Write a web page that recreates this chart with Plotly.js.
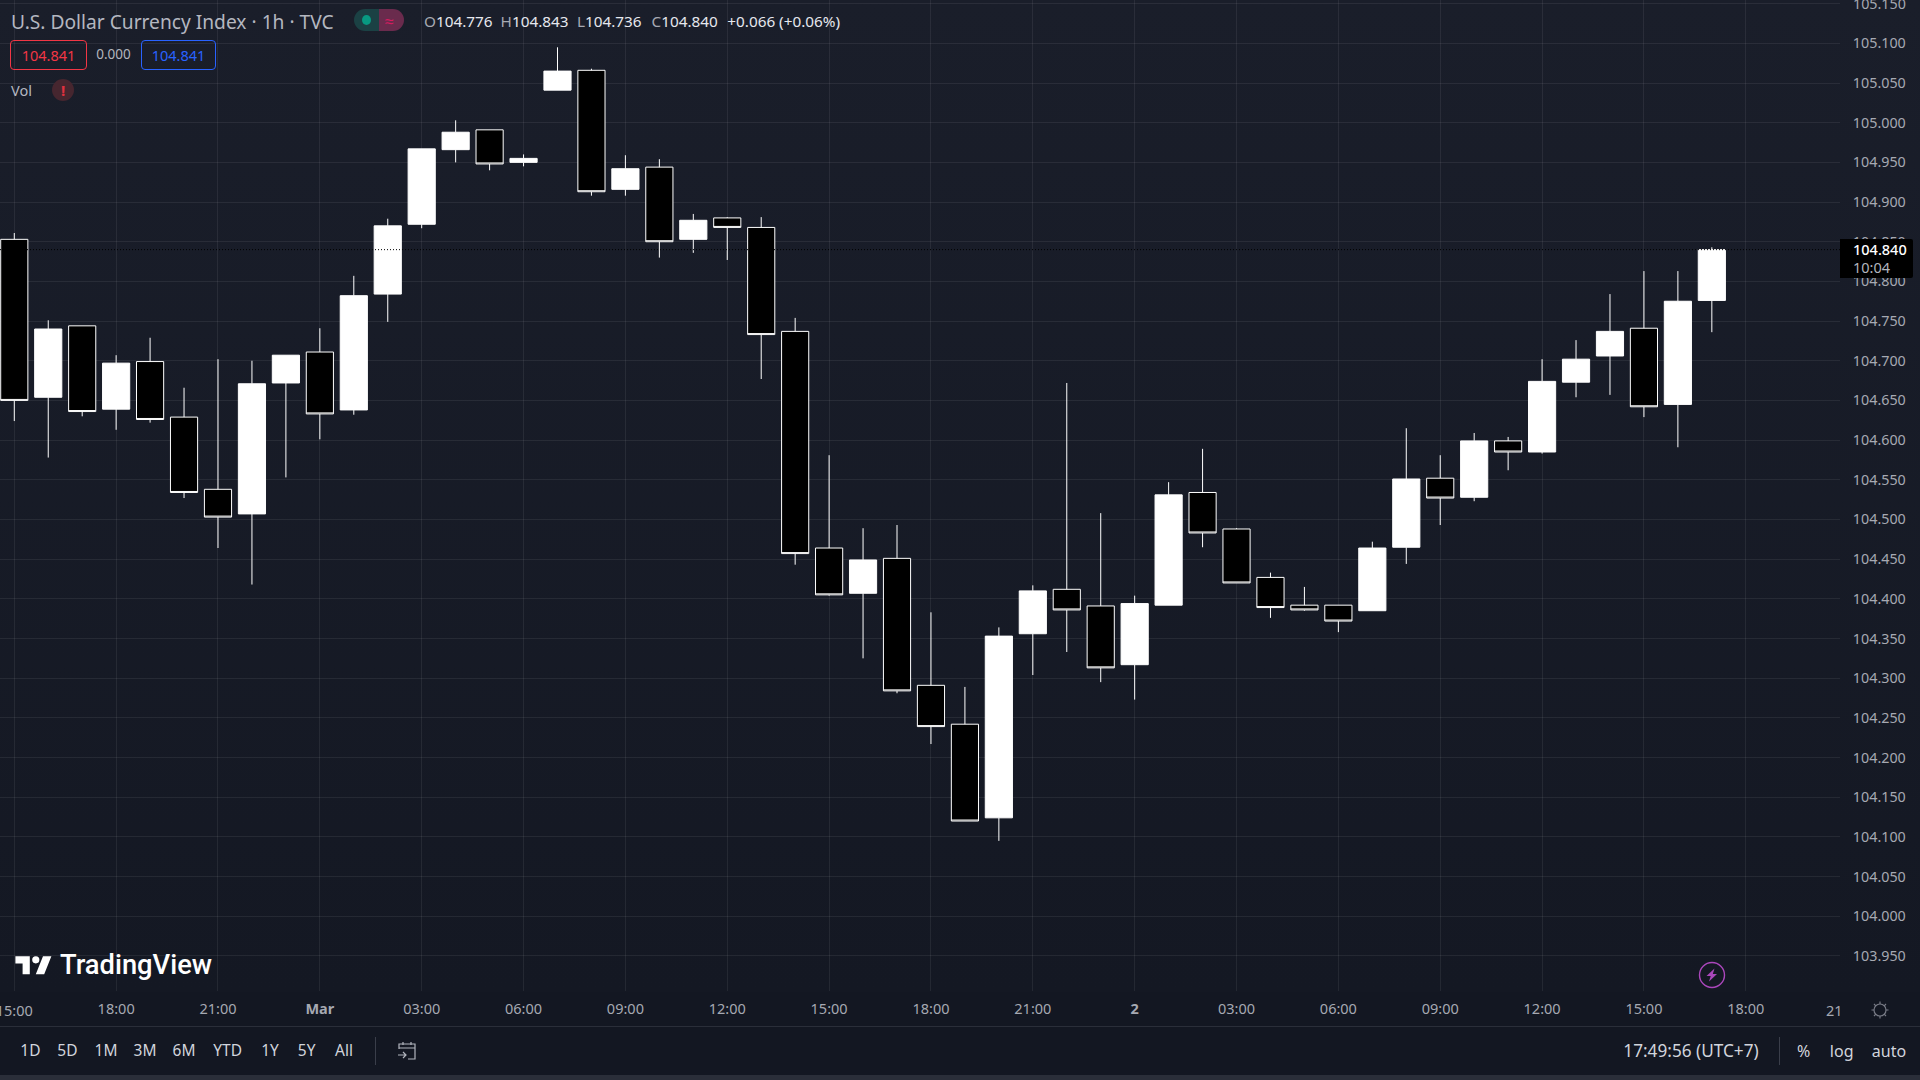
<!DOCTYPE html>
<html><head><meta charset="utf-8">
<script src="https://cdn.plot.ly/plotly-3.0.0.min.js"></script>
<style>
html,body{margin:0;padding:0;width:1920px;height:1080px;overflow:hidden;background:#131722;}
#bg{position:absolute;left:0;top:0;width:1920px;height:992px;background:linear-gradient(180deg,#1a1e2a 0%,#141823 100%);}
#chart{position:absolute;left:0;top:0;width:1920px;height:1080px;}
#ui{position:absolute;left:0;top:0;width:1920px;height:1080px;pointer-events:none;font-family:"Noto Sans",sans-serif;}
#ui .t{position:absolute;white-space:nowrap;transform:translateY(-50%);line-height:1;}
#ui .c{transform:translate(-50%,-50%);}
.box{position:absolute;box-sizing:border-box;}
</style></head><body>
<div id="bg"></div>
<div id="chart"></div>
<div id="ui"></div>
<script>
// ---- data ----
const times = [
"2023-02-28 15:00","2023-02-28 16:00","2023-02-28 17:00","2023-02-28 18:00","2023-02-28 19:00","2023-02-28 20:00","2023-02-28 21:00","2023-02-28 22:00","2023-02-28 23:00",
"2023-03-01 00:00","2023-03-01 01:00","2023-03-01 02:00","2023-03-01 03:00","2023-03-01 04:00","2023-03-01 05:00","2023-03-01 06:00","2023-03-01 07:00","2023-03-01 08:00","2023-03-01 09:00","2023-03-01 10:00","2023-03-01 11:00","2023-03-01 12:00","2023-03-01 13:00","2023-03-01 14:00","2023-03-01 15:00","2023-03-01 16:00","2023-03-01 17:00","2023-03-01 18:00","2023-03-01 19:00","2023-03-01 20:00","2023-03-01 21:00","2023-03-01 22:00","2023-03-01 23:00",
"2023-03-02 00:00","2023-03-02 01:00","2023-03-02 02:00","2023-03-02 03:00","2023-03-02 04:00","2023-03-02 05:00","2023-03-02 06:00","2023-03-02 07:00","2023-03-02 08:00","2023-03-02 09:00","2023-03-02 10:00","2023-03-02 11:00","2023-03-02 12:00","2023-03-02 13:00","2023-03-02 14:00","2023-03-02 15:00","2023-03-02 16:00","2023-03-02 17:00"];
const opens = [104.853,104.654,104.744,104.639,104.699,104.629,104.538,104.507,104.672,104.711,104.638,104.784,104.872,104.966,104.991,104.950,105.041,105.066,104.916,104.944,104.853,104.880,104.868,104.737,104.464,104.407,104.451,104.291,104.242,104.124,104.356,104.412,104.391,104.317,104.392,104.534,104.488,104.427,104.392,104.392,104.385,104.465,104.552,104.528,104.599,104.585,104.673,104.706,104.741,104.645,104.776];
const highs = [104.861,104.751,104.744,104.707,104.729,104.666,104.702,104.700,104.707,104.741,104.807,104.879,104.967,105.003,104.991,104.960,105.095,105.068,104.959,104.954,104.885,104.881,104.881,104.754,104.581,104.489,104.493,104.383,104.289,104.364,104.417,104.672,104.508,104.404,104.547,104.589,104.489,104.433,104.415,104.392,104.472,104.615,104.581,104.609,104.604,104.702,104.726,104.784,104.813,104.813,104.843];
const lows = [104.624,104.578,104.630,104.613,104.622,104.527,104.464,104.418,104.553,104.601,104.632,104.749,104.867,104.950,104.940,104.945,105.041,104.908,104.908,104.830,104.836,104.827,104.677,104.443,104.404,104.325,104.281,104.217,104.120,104.095,104.304,104.333,104.295,104.273,104.392,104.465,104.420,104.376,104.385,104.358,104.385,104.444,104.493,104.523,104.562,104.583,104.654,104.657,104.629,104.591,104.736];
const closes = [104.650,104.740,104.636,104.697,104.626,104.534,104.503,104.671,104.707,104.633,104.782,104.870,104.967,104.988,104.948,104.955,105.065,104.913,104.942,104.850,104.877,104.868,104.733,104.457,104.405,104.449,104.284,104.239,104.120,104.353,104.410,104.386,104.313,104.394,104.531,104.483,104.420,104.389,104.386,104.372,104.464,104.551,104.527,104.599,104.585,104.674,104.702,104.737,104.642,104.775,104.840];
const priceTicks = [103.95,104.00,104.05,104.10,104.15,104.20,104.25,104.30,104.35,104.40,104.45,104.50,104.55,104.60,104.65,104.70,104.75,104.80,104.85,104.90,104.95,105.00,105.05,105.10,105.15];
const timeTicks = ["2023-02-28 15:00","2023-02-28 18:00","2023-02-28 21:00","2023-03-01 00:00","2023-03-01 03:00","2023-03-01 06:00","2023-03-01 09:00","2023-03-01 12:00","2023-03-01 15:00","2023-03-01 18:00","2023-03-01 21:00","2023-03-02 00:00","2023-03-02 03:00","2023-03-02 06:00","2023-03-02 09:00","2023-03-02 12:00","2023-03-02 15:00","2023-03-02 18:00"];
const timeLabels = ["15:00","18:00","21:00","<b>Mar</b>","03:00","06:00","09:00","12:00","15:00","18:00","21:00","<b>2</b>","03:00","06:00","09:00","12:00","15:00","18:00"];
const lastPrice = 104.840;
const titleText = "U.S. Dollar Currency Index · 1h · TVC";
const FONT = '"Noto Sans", sans-serif';

Plotly.newPlot('chart',[{
  type:'candlestick', x:times, open:opens, high:highs, low:lows, close:closes,
  increasing:{line:{color:'#ffffff',width:1},fillcolor:'#ffffff'},
  decreasing:{line:{color:'#ffffff',width:1},fillcolor:'#000000'},
  whiskerwidth:0, hoverinfo:'skip', showlegend:false
}],{
  width:1920,height:1080,
  paper_bgcolor:'rgba(0,0,0,0)',plot_bgcolor:'rgba(0,0,0,0)',
  margin:{l:0,r:80,t:0,b:88.5,pad:0},
  showlegend:false,boxgap:0.2,boxgroupgap:0,
  title:{text:titleText,xref:'container',yref:'container',x:11/1920,xanchor:'left',y:1-22/1080,yanchor:'middle',
    font:{family:FONT,size:19.2,color:'#b4b7c0'},pad:{t:0,b:0,l:0,r:0}},
  xaxis:{type:'date',range:['2023-02-28 14:34:45','2023-03-02 20:46:30'],rangeslider:{visible:false},
    tickmode:'array',tickvals:timeTicks,ticktext:timeLabels,ticks:'outside',ticklen:5,tickcolor:'rgba(0,0,0,0)',
    tickfont:{family:FONT,size:14.5,color:'#a6a9b2'},showgrid:true,gridcolor:'rgba(255,255,255,0.07)',gridwidth:1,
    showline:false,zeroline:false,fixedrange:true,tickangle:0},
  yaxis:{side:'right',range:[103.9058,105.1546],tickmode:'array',tickvals:priceTicks,
    ticktext:priceTicks.map(v=>v.toFixed(3)),ticks:'outside',ticklen:9,tickcolor:'rgba(0,0,0,0)',
    tickfont:{family:FONT,size:14.3,color:'#a6a9b2'},showgrid:true,gridcolor:'rgba(255,255,255,0.07)',gridwidth:1,
    showline:false,zeroline:false,fixedrange:true},
  shapes:[{type:'line',xref:'paper',x0:0,x1:1,yref:'y',y0:lastPrice,y1:lastPrice,layer:'above',line:{color:'#000000',width:1,dash:'1px,2px'}}]
},{displayModeBar:false,staticPlot:true});

// ---- chrome around the chart ----
const ui=document.getElementById('ui');
function txt(s,x,y,o){o=o||{};const d=document.createElement('div');d.className='t'+(o.c?' c':'');d.textContent=s;
  d.style.left=x+'px';d.style.top=y+'px';d.style.fontSize=(o.size||15)+'px';d.style.color=o.color||'#d1d4dc';
  if(o.weight)d.style.fontWeight=o.weight;if(o.font)d.style.fontFamily=o.font;ui.appendChild(d);return d;}
function box(x,y,w,h,css){const d=document.createElement('div');d.className='box';d.style.left=x+'px';d.style.top=y+'px';d.style.width=w+'px';d.style.height=h+'px';d.style.cssText+=';'+css;ui.appendChild(d);return d;}
function svg(x,y,w,h,vb,inner){const d=document.createElement('div');d.style.cssText=`position:absolute;left:${x}px;top:${y}px;width:${w}px;height:${h}px`;d.innerHTML=`<svg xmlns="http://www.w3.org/2000/svg" width="${w}" height="${h}" viewBox="${vb}">${inner}</svg>`;ui.appendChild(d);}

// labels at the chart edges
txt('105.150',1853,3.5,{size:14.3,color:'#a6a9b2'});
txt('15:00',14.3,1010,{c:1,size:14.5,color:'#a6a9b2'});
// status pill
box(354,9,25,22,'background:#1b4144;border-radius:11px 0 0 11px');
box(379,9,25,22,'background:#6a2b4d;border-radius:0 11px 11px 0');
box(362,15,9,10,'background:#089981;border-radius:50%');
txt('≈',389.5,20.5,{c:1,size:16,color:'#d81b60'});
// OHLC
[['O','104.776',424],['H','104.843',500.6],['L','104.736',577],['C','104.840',651.5]].forEach(a=>{
  const d=txt(a[0],a[2],22,{size:15.3,color:'#a6a9b2'});
  const s=document.createElement('span');s.textContent=a[1];s.style.color='#e6e8ee';d.appendChild(s);});
txt('+0.066 (+0.06%)',727.3,22,{size:15.3,color:'#e6e8ee'});
// bid/ask
box(10,40,77,30,'border:1px solid #f23645;border-radius:4px');
txt('104.841',48.5,54.5,{c:1,size:14.5,color:'#f23645'});
txt('0.000',113.5,54.5,{c:1,size:13.5,color:'#b2b5be'});
box(141,40,75,30,'border:1px solid #2962ff;border-radius:4px');
txt('104.841',178.5,54.5,{c:1,size:14.5,color:'#2962ff'});
// Vol
txt('Vol',11,90,{size:14.5,color:'#b4b7c0'});
box(52,79,22,22,'background:#46262f;border-radius:50%');
txt('!',63,90,{c:1,size:15,color:'#e0313f',weight:700});
// logo
svg(12.6,948.8,43.2,33.6,'0 0 36 28','<path fill="#ffffff" d="M14 6H2v6h6v9h6V6Zm12 15h-7l6-15h7l-6 15Zm-7-9a3 3 0 1 0 0-6 3 3 0 0 0 0 6Z"/>');
txt('TradingView',60,966,{size:27.3,color:'#ffffff',weight:500,font:'Roboto, sans-serif'});
// lightning badge
svg(1697.5,961,28,28,'0 0 28 28','<circle cx="14" cy="14" r="12.5" fill="none" stroke="#ab47bc" stroke-width="1.4"/><path fill="#ab47bc" d="M16.5 7.5 8.5 15h4.2l-1.7 5.5 8-7.5h-4.2z"/>');
// price tag
box(1840,239,73,39,'background:#000;border-radius:0 2px 2px 0');
txt('104.840',1853,248.5,{size:14.5,color:'#ffffff',weight:500});
txt('10:04',1853,267,{size:14.5,color:'#b2b5be'});
// clipped 21:00 label
const clip=box(1800,1000,40,20,'overflow:hidden');
const c21=document.createElement('div');c21.textContent='21:00';c21.style.cssText='position:absolute;left:26px;top:2px;font-size:14.5px;line-height:16px;color:#a6a9b2;white-space:nowrap';clip.appendChild(c21);
// gear
svg(1870,1000,20,20,'0 0 20 20','<circle cx="10" cy="10" r="6" fill="none" stroke="#787b86" stroke-width="1.2"/><g stroke="#787b86" stroke-width="1.2"><path d="M10 1.5v2.5M10 16v2.5M1.5 10H4M16 10h2.5M4 4l1.8 1.8M14.2 14.2 16 16M16 4l-1.8 1.8M5.8 14.2 4 16"/></g>');
// bottom bar
box(0,1026,1920,1,'background:#2a2e39');
box(0,1075,1920,5,'background:#2a2e39');
box(375,1037,1,28,'background:#3a3e4a');
box(1779,1037,1,28,'background:#3a3e4a');
const ranges=['1D','5D','1M','3M','6M','YTD','1Y','5Y','All'];
const rangeX=[30.4,67.4,106,145,184,227.7,270,306.7,344];
ranges.forEach((r,i)=>txt(r,rangeX[i],1051,{c:1,size:15.5,color:'#d1d4dc'}));
svg(396,1040,22,22,'0 0 22 22','<g fill="none" stroke="#b2b5be" stroke-width="1.2"><path d="M3 9V4h16v15H12M3 8h16M7 2v3M15 2v3M2 15h8M7 12l3 3-3 3"/></g>');
txt('17:49:56 (UTC+7)',1691,1051,{c:1,size:17.2,color:'#d1d4dc'});
txt('%',1803.7,1051,{c:1,size:16,color:'#d1d4dc'});
txt('log',1841.7,1051,{c:1,size:16,color:'#d1d4dc'});
txt('auto',1889,1051,{c:1,size:16,color:'#d1d4dc'});
</script></body></html>
